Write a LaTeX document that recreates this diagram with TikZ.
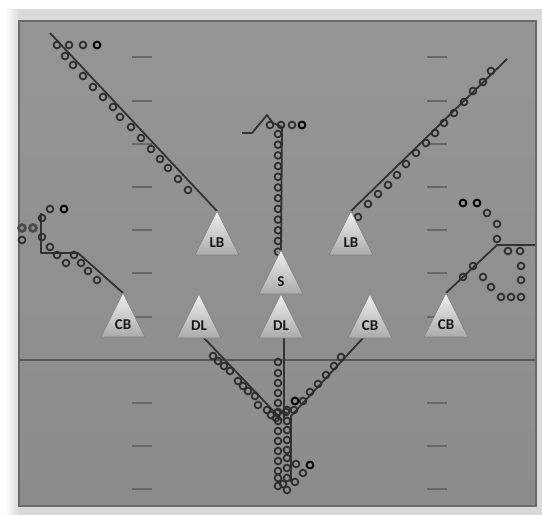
\documentclass[tikz,border=0pt]{standalone}
\usepackage{fontspec}
\newfontfamily\lblfont{Carlito}
\usetikzlibrary{calc}
\definecolor{frameclr}{HTML}{DADADA}
\definecolor{fieldtop}{HTML}{959595}
\definecolor{fieldbot}{HTML}{8C8C8C}
\definecolor{edgeclr}{HTML}{6A6A6A}
\definecolor{tickclr}{HTML}{686868}
\definecolor{losclr}{HTML}{585858}
\definecolor{routeclr}{HTML}{333333}
\definecolor{rcvclr}{HTML}{2C2C2C}
\definecolor{tritop}{HTML}{F0F0F0}
\definecolor{tribot}{HTML}{ABABAB}
\tikzset{
  route/.style={draw=routeclr, line width=1.8pt, line join=round},
  rcv/.style={draw=rcvclr, line width=1.7pt},
  rcvdark/.style={draw=black, line width=1.9pt},
  rcvthick/.style={draw=rcvclr!85, line width=2.8pt},
  playerbox/.style={draw=black!50, line width=0.6pt, top color=tritop, bottom color=tribot},
  lbl/.style={font=\lblfont\bfseries\fontsize{15}{16}\selectfont, text=black!90, inner sep=0pt},
  yardtick/.style={draw=tickclr, line width=1.5pt},
}
\newcommand\plyr[2]{%
  \path[playerbox] (#1) -- ++(-22,44) -- ++(44,0) -- cycle;
  \node[lbl] (#1-t) at ($(#1)+(0,32)$) {#2};}
\begin{document}
\begin{tikzpicture}[x=1pt,y=-1pt]
\useasboundingbox (0,0) rectangle (542,515);
\fill[white] (0,0) rectangle (542,515);
% frame
\fill[frameclr] (7,9) rectangle (542,515);
\path[left color=white!85!frameclr, right color=frameclr] (7,9) rectangle (19,515);
\path[top color=fieldtop, bottom color=fieldbot, draw=edgeclr, line width=1.2pt] (19,21) rectangle (536,506);
% yard ticks
\foreach \yy in {57,101,144,187,230,273,317,403,446,489}{
  \draw[yardtick] (132,\yy) -- (152,\yy);
  \draw[yardtick] (427,\yy) -- (447,\yy);
}
% line of scrimmage
\coordinate (losL) at (19,360);
\coordinate (losR) at (536,360);
\draw[draw=losclr, line width=1.2pt] (losL) -- (losR);

% player apex coordinates
\coordinate (lbL) at (217,211);
\coordinate (lbR) at (351,211);
\coordinate (sS) at (281,250);
\coordinate (cbL) at (123,293);
\coordinate (dlL) at (199,294);
\coordinate (dlM) at (281,294);
\coordinate (cbM) at (370,294);
\coordinate (cbR) at (446,293);
% base exits
\coordinate (dlLb) at (204,338);
\coordinate (dlMb) at (284,338);
\coordinate (cbMb) at (363,338);
% route waypoints
\coordinate (r1) at (50,33);
\coordinate (r2a) at (282,127);
\coordinate (r2b) at (273,123);
\coordinate (r2c) at (267,115);
\coordinate (r2d) at (252,133);
\coordinate (r2e) at (242,133);
\coordinate (r3) at (507,59);
\coordinate (r4a) at (497,245);
\coordinate (r4b) at (535,245);
\coordinate (r5a) at (78,253);
\coordinate (r5b) at (41,253);
\coordinate (r5c) at (41,213);
\coordinate (r6) at (282,420);
\coordinate (r7) at (284,420);
\coordinate (r8a) at (291,416);
\coordinate (r8b) at (291,482);

% routes
\draw[route] (lbL) -- (r1);
\draw[route] (sS) -- (r2a) -- (r2b) -- (r2c) -- (r2d) -- (r2e);
\draw[route] (lbR) -- (r3);
\draw[route] (cbR) -- (r4a) -- (r4b);
\draw[route] (cbL) -- (r5a) -- (r5b) -- (r5c);
\draw[route] (dlLb) -- (r6);
\draw[route] (dlMb) -- (r7);
\draw[route] (cbMb) -- (r8a) -- (r8b);

% receiver trails (circles)
\foreach \p in {(57,45),(69,45),(83,45),(65,56),(73,65),(83,76),(93,87),(103,97),(113,107),(120,117),(131,127),(141,138),(151,149),(160,159),(168,168),(178,179),(188,190)}
  \draw[rcv] \p circle[radius=3.4pt];
\draw[rcvdark] (97,45) circle[radius=3.4pt];
% S column
\foreach \yy in {134,144.7,155.4,166.1,176.8,187.5,198.2,208.9,219.6,230.3,241,251.7}
  \draw[rcv] (278,\yy) circle[radius=3.4pt];
\foreach \p in {(270,125),(281,125),(292,125)}
  \draw[rcv] \p circle[radius=3.4pt];
\draw[rcvdark] (302,125) circle[radius=3.4pt];
% LB right
\foreach \p in {(358,217),(368,204),(378,194),(388,185),(397,175),(406,164),(416,153),(426,143),(435,133),(444,123),(454,113),(464,102),(473,91),(483,82),(491,71)}
  \draw[rcv] \p circle[radius=3.4pt];
% CB right
\foreach \p in {(463,203),(477,203)}
  \draw[rcvdark] \p circle[radius=3.4pt];
\foreach \p in {(487,213),(497,224),(497,239),(508,251),(520,251),(521,266),(521,280),(521,297),(511,297),(501,297),(491,287),(483,277),(473,266),(463,277)}
  \draw[rcv] \p circle[radius=3.4pt];
% CB left
\draw[rcv] (50,209) circle[radius=3.4pt];
\draw[rcvdark] (64,209) circle[radius=3.4pt];
\foreach \p in {(33,228),(22,228)}
  \draw[rcvthick] \p circle[radius=3.4pt];
\foreach \p in {(42,218),(22,240),(42,237),(50,247),(57,255),(66,263),(74,255),(81,263),(88,271),(97,280)}
  \draw[rcv] \p circle[radius=3.4pt];
% DL left
\foreach \p in {(213,356),(218,361),(224,366),(230,371),(238,381),(243,386),(248,391),(255,396),(258,405),(267,410),(271,415),(277,413)}
  \draw[rcv] \p circle[radius=3.4pt];
% DL middle columns
\foreach \yy in {362,373,383,393,403,412,421,431,441,451,461,471,478,486}
  \draw[rcv] (278,\yy) circle[radius=3.4pt];
\foreach \yy in {410,421,430,440,450,458,468,478,490}
  \draw[rcv] (287,\yy) circle[radius=3.4pt];
% CB middle
\foreach \p in {(341,357),(334,366),(326,375),(318,384),(310,392),(303,401),(294,410),(286,412),(276,418),(296,464),(303,473),(295,482),(283,484)}
  \draw[rcv] \p circle[radius=3.4pt];
\foreach \p in {(295,401),(310,465)}
  \draw[rcvdark] \p circle[radius=3.4pt];

% players
\plyr{lbL}{LB}
\plyr{lbR}{LB}
\plyr{sS}{S}
\plyr{cbL}{CB}
\plyr{dlL}{DL}
\plyr{dlM}{DL}
\plyr{cbM}{CB}
\plyr{cbR}{CB}
\end{tikzpicture}
\end{document}
